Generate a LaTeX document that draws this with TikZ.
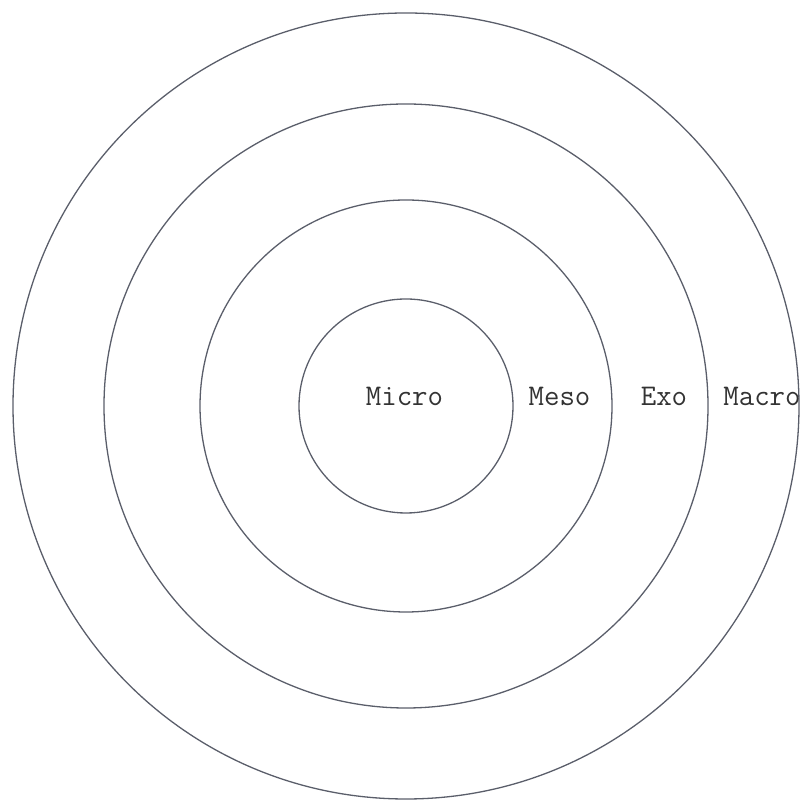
\documentclass[tikz,border=0pt]{standalone}
\begin{document}
\begin{tikzpicture}[x=1pt,y=1pt,
  ring/.style={draw=ringcol,line width=1.3pt},
  lab/.style={font=\fontsize{30}{36}\selectfont\ttfamily,text=black!80,anchor=base,inner sep=0pt}]
\definecolor{ringcol}{HTML}{5A5E6A}
\useasboundingbox (0,0) rectangle (806,805);
\coordinate (c) at (406,399);
\draw[ring] (c) circle[radius=393];
\draw[ring] (c) circle[radius=302];
\draw[ring] (c) circle[radius=206];
\draw[ring] (c) circle[radius=107];
\node[lab] (micro) at (404.5,399) {Micro};
\node[lab] (meso) at (559.5,399) {Meso};
\node[lab] (exo) at (664,399) {Exo};
\node[lab] (macro) at (762,399) {Macro};
\end{tikzpicture}
\end{document}
